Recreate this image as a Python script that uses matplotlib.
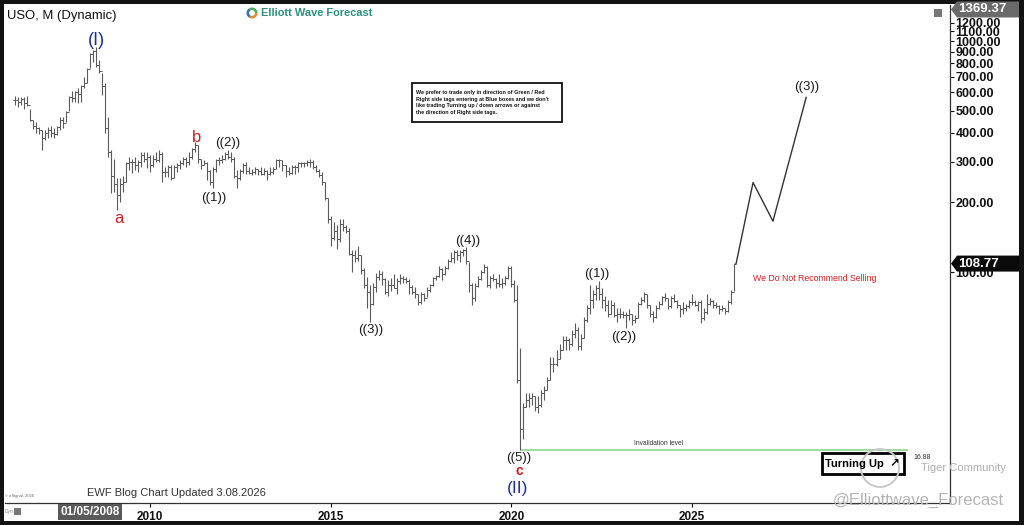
import matplotlib
matplotlib.use('Agg')
import matplotlib.pyplot as plt
import matplotlib.transforms as mtrans
from matplotlib.patches import Rectangle, Polygon, Circle, Wedge
from matplotlib.ticker import NullLocator
import numpy as np

# ---------------- data (monthly bars, split adjusted) ----------------
start_year, start_month = 2006, 4

high_2006 = [580, 570, 570, 575, 580, 510, 455, 445, 425]
low_2006 = [530, 520, 530, 510, 525, 450, 415, 400, 395]
close_2006 = [555, 545, 560, 540, 530, 455, 430, 420, 410]

high_2007 = [410, 410, 425, 430, 420, 430, 470, 470, 500, 580, 610, 610]
low_2007 = [337, 373, 380, 385, 380, 390, 410, 420, 445, 500, 545, 545]
close_2007 = [380, 400, 410, 400, 395, 425, 455, 440, 495, 575, 565, 600]

high_2008 = [625, 645, 700, 765, 890, 910, 940, 830, 725, 660, 470, 337]
low_2008 = [540, 545, 625, 660, 765, 810, 775, 725, 585, 400, 315, 220]
close_2008 = [590, 640, 660, 760, 880, 905, 790, 745, 640, 420, 330, 260]

high_2009 = [310, 255, 255, 260, 300, 315, 310, 315, 305, 330, 330, 330]
low_2009 = [222, 185, 200, 222, 245, 276, 268, 276, 270, 285, 300, 282]
close_2009 = [240, 215, 240, 245, 295, 300, 300, 290, 300, 320, 310, 315]

high_2010 = [320, 320, 330, 337, 330, 285, 290, 290, 290, 296, 305, 315]
low_2010 = [270, 285, 300, 300, 245, 258, 258, 250, 255, 270, 280, 290]
close_2010 = [290, 310, 305, 325, 270, 270, 285, 255, 285, 290, 295, 310]

high_2011 = [315, 330, 345, 365, 355, 310, 305, 300, 276, 285, 310, 315]
low_2011 = [285, 290, 310, 330, 296, 280, 290, 250, 238, 230, 270, 290]
close_2011 = [300, 315, 340, 355, 310, 290, 295, 275, 245, 280, 305, 305]

high_2012 = [320, 330, 337, 330, 315, 276, 280, 296, 300, 285, 280, 285]
low_2012 = [295, 305, 310, 300, 255, 230, 250, 268, 265, 265, 262, 265]
close_2012 = [310, 325, 315, 310, 260, 255, 275, 290, 275, 268, 270, 278]

high_2013 = [280, 285, 282, 276, 285, 285, 310, 310, 305, 290, 285, 290]
low_2013 = [263, 262, 262, 250, 262, 265, 280, 285, 275, 258, 262, 265]
close_2013 = [275, 265, 275, 265, 270, 280, 305, 305, 290, 275, 268, 285]

high_2014 = [290, 300, 300, 300, 305, 310, 305, 290, 280, 270, 245, 210]
low_2014 = [265, 270, 285, 285, 288, 285, 280, 270, 258, 238, 205, 163]
close_2014 = [285, 295, 295, 297, 300, 300, 285, 275, 262, 245, 210, 170]

high_2015 = [175, 165, 160, 170, 170, 160, 155, 125, 125, 130, 118, 104]
low_2015 = [130, 138, 126, 135, 150, 148, 118, 100, 110, 112, 98, 85]
close_2015 = [140, 150, 139, 161, 157, 150, 120, 118, 115, 118, 102, 88]

high_2016 = [95, 88, 90, 99, 102, 101, 94, 92, 94, 98, 94, 98]
low_2016 = [70, 61, 72, 82, 92, 88, 80, 79, 83, 85, 80, 89]
close_2016 = [82, 73, 86, 95, 98, 93, 82, 88, 88, 85, 91, 94]

high_2017 = [96, 95, 93, 88, 86, 80, 82, 81, 86, 89, 95, 97]
low_2017 = [90, 90, 80, 80, 77, 72, 73, 75, 78, 82, 87, 92]
close_2017 = [93, 91, 86, 82, 80, 74, 80, 77, 84, 88, 94, 96]

high_2018 = [106, 104, 106, 114, 122, 124, 124, 124, 126, 128, 110, 90]
low_2018 = [95, 92, 97, 103, 110, 109, 113, 110, 117, 108, 82, 72]
close_2018 = [103, 98, 104, 112, 115, 122, 118, 122, 125, 112, 88, 77]

high_2019 = [90, 96, 102, 108, 106, 96, 98, 94, 98, 94, 96, 106]
low_2019 = [75, 86, 92, 99, 86, 85, 91, 85, 86, 85, 88, 93]
close_2019 = [87, 93, 100, 105, 88, 94, 93, 90, 89, 90, 94, 104]

high_2020 = [106, 92, 88, 47, 27, 30, 30, 30, 29, 29, 31, 32]
low_2020 = [86, 74, 33, 16.88, 19, 26, 26, 26.5, 25, 24.5, 26, 28]
close_2020 = [89, 76, 34, 21, 26, 28, 28.5, 29, 26, 26.5, 30, 31]

high_2021 = [35, 43, 43, 46, 49, 53, 53, 52, 56, 60, 58, 54]
low_2021 = [31, 34, 37, 39, 42, 46, 46, 46, 48, 52, 46, 46]
close_2021 = [34, 40, 40, 42, 46, 51, 51, 49, 54, 56, 48, 52]

high_2022 = [64, 72, 88, 84, 88, 91, 85, 79, 76, 76, 74, 70]
low_2022 = [52, 61, 66, 70, 76, 76, 70, 68, 64, 66, 64, 61]
close_2022 = [62, 70, 76, 80, 85, 80, 76, 72, 66, 72, 65, 66]

high_2023 = [70, 68, 67, 69, 66, 65, 74, 78, 82, 80, 72, 68]
low_2023 = [63, 63, 57, 62, 59, 60, 63, 72, 74, 70, 64, 61]
close_2023 = [66, 65, 65, 66, 62, 63, 73, 76, 80, 72, 66, 64]

high_2024 = [72, 75, 79, 81, 77, 79, 80, 76, 72, 74, 73, 76]
low_2024 = [63, 69, 72, 75, 69, 70, 74, 70, 64, 66, 68, 70]
close_2024 = [70, 73, 78, 77, 71, 77, 75, 72, 69, 70, 71, 74]

high_2025 = [80, 76, 75, 76, 70, 80, 77, 76, 74, 72, 72, 70]
low_2025 = [72, 71, 68, 60, 62, 66, 72, 70, 70, 66, 68, 66]
close_2025 = [74, 72, 74, 63, 67, 73, 75, 72, 71, 69, 70, 68]

high_2026 = [76, 84, 109]
low_2026 = [67, 73, 83]
close_2026 = [74, 82, 108.77]

# projected path
proj_x = [2026.22, 2026.69, 2027.24, 2028.16]
proj_y = [108.77, 244, 166, 570]

# wave labels
wave_text = ['(I)', 'a', 'b', '((1))', '((2))', '((3))', '((4))', '((5))', 'c', '(II)',
             '((1))', '((2))', '((3))']
wave_x = [2008.51, 2009.14, 2011.30, 2011.77, 2012.16, 2016.12, 2018.80, 2020.21, 2020.21,
          2020.18, 2022.37, 2023.12, 2028.18]
wave_y = [1010, 170, 384, 209, 362, 56.1, 136, 15.6, 13.8, 11.6, 98, 52.3, 632]
wave_kind = ['deg1', 'abc', 'abc', 'deg3', 'deg3', 'deg3', 'deg3', 'deg3', 'abcs', 'deg1s',
             'deg3', 'deg3', 'deg3']

invalidation = 16.88
last_price = 108.77
top_price = 1369.37

y_ticks = [100, 200, 300, 400, 500, 600, 700, 800, 900, 1000, 1100, 1200]
x_ticks = [2010, 2015, 2020, 2025]
x_labels = ['2010', '2015', '2020', '2025']

# ---------------- assemble ----------------
years = range(2006, 2027)
high = np.concatenate([globals()[f'high_{y}'] for y in years]).astype(float)
low = np.concatenate([globals()[f'low_{y}'] for y in years]).astype(float)
close = np.concatenate([globals()[f'close_{y}'] for y in years]).astype(float)
openp = np.concatenate([[555.0], close[:-1]])
dates = start_year + (start_month - 1) / 12 + np.arange(len(close)) / 12

W, H = 1024, 525
fig = plt.figure(figsize=(W / 100, H / 100), dpi=100)
fig.patch.set_facecolor('#121212')
pix = mtrans.Affine2D().scale(1, -1).translate(0, H)

bg = Rectangle((4, 4), 1015, 517, transform=pix, facecolor='white', edgecolor='none', zorder=-5)
fig.add_artist(bg)

plt.rcParams['font.family'] = ['Liberation Sans', 'DejaVu Sans']

def fxy(px, py):
    return px / W, 1 - py / H

ax = fig.add_axes([5 / W, (H - 503) / H, 945 / W, 498 / H])
ax.set_facecolor('white')
ax.set_yscale('log')
ax.set_xlim(2005.987, 2032.14)
ax.set_ylim(10, 1432)
for s in ['top', 'left']:
    ax.spines[s].set_visible(False)
ax.spines['right'].set_color('#333333')
ax.spines['bottom'].set_color('#333333')
ax.spines['right'].set_linewidth(0.9)
ax.spines['bottom'].set_linewidth(0.9)

ax.yaxis.tick_right()
ax.yaxis.set_minor_locator(NullLocator())
ax.set_yticks(y_ticks, labels=[f'{v:.2f}' for v in y_ticks], fontweight='bold', fontsize=9)
ax.tick_params(axis='y', which='major', length=3, pad=1, colors='#111111', width=0.8)
ax.set_xticks(x_ticks, labels=x_labels, fontweight='bold', fontsize=8.5)
ax.tick_params(axis='x', length=3, pad=3, colors='#111111', width=0.8)

# OHLC bars
bar_col = '#5a5a5a'
tw = 0.055
ax.vlines(dates, low, high, color=bar_col, lw=0.8)
ax.hlines(openp, dates - tw, dates, color=bar_col, lw=0.7)
ax.hlines(close, dates, dates + tw, color=bar_col, lw=0.7)

# projection
ax.plot(proj_x, proj_y, color='#333333', lw=1.0)

# invalidation level
ax.hlines(invalidation, 2020.27, 2030.98, color='#98d898', lw=1.3)
ax.text(2024.07, invalidation * 1.035, 'Invalidation level', fontsize=4.8, ha='center',
        va='bottom', color='#333333')
ax.text(2031.12, 15.8, f'{invalidation:.2f}', fontsize=5, ha='left', va='center', color='#333333')

ax.text(2026.69, 93.3, 'We Do Not Recommend Selling', fontsize=6.3, color='#d42020',
        ha='left', va='center')

styles = {
    'deg1': dict(color='#1c2f9c', fontsize=13),
    'deg1s': dict(color='#1c2f9c', fontsize=12.5),
    'abc': dict(color='#cc2020', fontsize=12),
    'abcs': dict(color='#cc2020', fontsize=10, fontweight='bold'),
    'deg3': dict(color='#1a1a1a', fontsize=9.5),
}
for t, x, y, k in zip(wave_text, wave_x, wave_y, wave_kind):
    ax.text(x, y, t, ha='center', va='center', **styles[k])

# price tags on right
blend = mtrans.blended_transform_factory(fig.transFigure, ax.transData)
def tag(price, fc, label):
    d = 10 ** (8 / 231)
    y0, y1 = price / d, price * d
    poly = Polygon([(951 / W, price), (957 / W, y1), (1019 / W, y1), (1019 / W, y0), (957 / W, y0)],
                   closed=True, transform=blend, facecolor=fc, edgecolor='none', clip_on=False, zorder=10)
    ax.add_artist(poly)
    ax.text(958 / W, price, label, transform=blend, color='white', fontweight='bold', fontsize=9.5,
            ha='left', va='center', clip_on=False, zorder=11)

tag(last_price, '#0a0a0a', f'{last_price:.2f}')
tag(top_price, '#6a6a6a', f'{top_price:.2f}')

# ---------------- decorations (figure pixels) ----------------
fig.text(*fxy(7, 16), 'USO, M (Dynamic)', fontsize=9.4, ha='left', va='center', color='#111111')

# small icon top right
fig.add_artist(Rectangle((934, 9), 8, 8, transform=pix, facecolor='#777777', edgecolor='none'))

# EWF logo
cx, cy, r = 252, 13, 5.5
for th1, th2, c in [(0, 120, '#e8892a'), (120, 240, '#2f74b5'), (240, 360, '#4caf50')]:
    fig.add_artist(Wedge((cx, cy), r, th1, th2, width=2.6, transform=pix, facecolor=c, edgecolor='none'))
fig.text(*fxy(261, 13.5), 'Elliott Wave Forecast', fontsize=7.9, fontweight='bold',
         color='#2e8f7a', ha='left', va='center')

# info box
fig.add_artist(Rectangle((412, 83), 150, 39, transform=pix, facecolor='white',
                         edgecolor='#111111', lw=1.3))
info = ("We prefer to trade only in direction of Green / Red\n"
        "Right side tags entering at Blue boxes and we don't\n"
        "like trading Turning up / down arrows or against\n"
        "the direction of Right side tags.")
fig.text(*fxy(416, 102.5), info, fontsize=3.9, fontweight='bold', ha='left', va='center',
         color='#111111', linespacing=1.45)

# turning up box
fig.add_artist(Rectangle((822, 453), 82, 21, transform=pix, facecolor='white',
                         edgecolor='#000000', lw=2))
fig.text(*fxy(825, 464), 'Turning Up', fontsize=8, fontweight='bold', ha='left', va='center',
         color='#000000')
fig.text(*fxy(894, 463), '\u2197', fontsize=8.5, fontweight='bold', ha='center', va='center',
         color='#000000', family=['DejaVu Sans'])

# watermarks
fig.add_artist(Circle((880, 468), 19, transform=pix, facecolor='none', edgecolor='#c8c8c8', lw=1.4))
fig.text(*fxy(921, 468), 'Tiger Community', fontsize=8, ha='left', va='center', color='#b0b0b0')
fig.text(*fxy(1004, 500), '@Elliottwave_Forecast', fontsize=12, ha='right', va='center',
         color='#b4b4b4')

fig.text(*fxy(87, 493), 'EWF Blog Chart Updated 3.08.2026', fontsize=8, ha='left', va='center',
         color='#333333')
fig.text(*fxy(5, 496), '\u00a9 eSignal, 2026', fontsize=3, ha='left', va='center', color='#666666')
fig.text(*fxy(5, 512), 'Dyn', fontsize=3.5, ha='left', va='center', color='#888888')
fig.add_artist(Rectangle((14, 508), 7, 7, transform=pix, facecolor='#777777', edgecolor='none'))

# date box
fig.add_artist(Rectangle((58, 504), 64, 16, transform=pix, facecolor='#5a5a5a', edgecolor='none',
                         zorder=5))
fig.text(*fxy(90, 512), '01/05/2008', fontsize=8.5, fontweight='bold', ha='center', va='center',
         color='white', zorder=6)

fig.savefig('out.png', dpi=100, facecolor=fig.get_facecolor())
